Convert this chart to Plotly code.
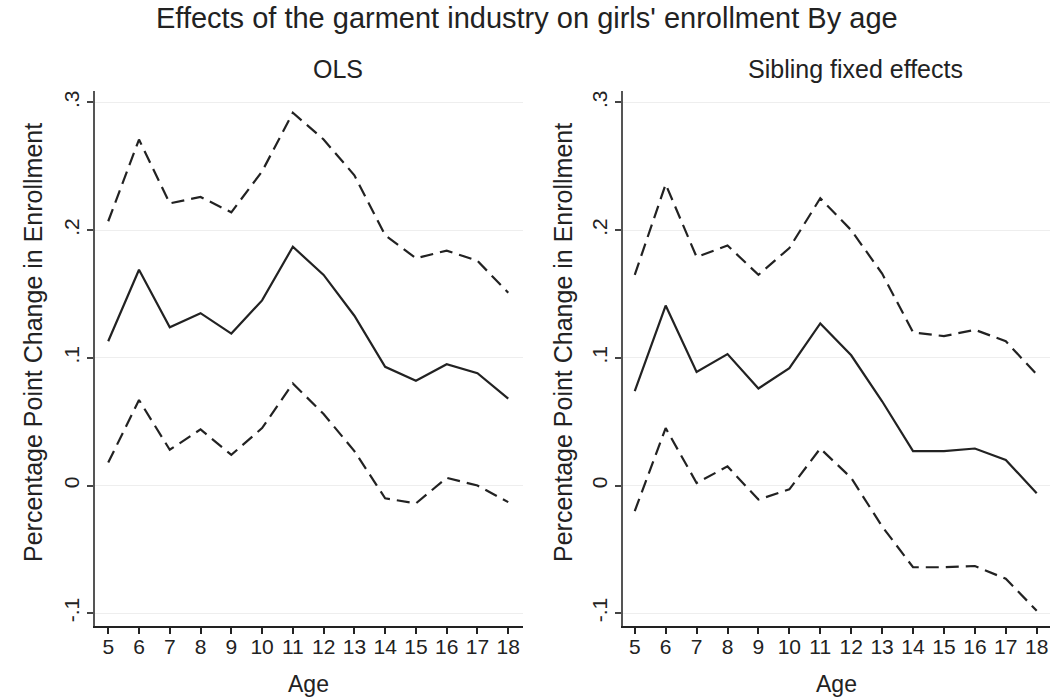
import plotly.graph_objects as go

ages = list(range(5, 19))

ols_est = [0.113, 0.169, 0.124, 0.135, 0.119, 0.145, 0.187, 0.165, 0.133, 0.093, 0.082, 0.095, 0.088, 0.068]
ols_hi = [0.207, 0.271, 0.221, 0.226, 0.214, 0.246, 0.292, 0.271, 0.243, 0.196, 0.178, 0.184, 0.176, 0.151]
ols_lo = [0.018, 0.067, 0.028, 0.044, 0.024, 0.045, 0.080, 0.056, 0.027, -0.010, -0.014, 0.006, 0.000, -0.013]

fe_est = [0.074, 0.141, 0.089, 0.103, 0.076, 0.092, 0.127, 0.102, 0.066, 0.027, 0.027, 0.029, 0.020, -0.006]
fe_hi = [0.165, 0.236, 0.179, 0.188, 0.165, 0.186, 0.225, 0.200, 0.166, 0.120, 0.117, 0.122, 0.113, 0.087]
fe_lo = [-0.020, 0.045, 0.002, 0.015, -0.011, -0.003, 0.029, 0.006, -0.032, -0.064, -0.064, -0.063, -0.073, -0.098]

y_ticks = [-0.1, 0, 0.1, 0.2, 0.3]
y_tick_labels = ["-.1", "0", ".1", ".2", ".3"]

main_title = "Effects of the garment industry on girls' enrollment By age"
panel_titles = ["OLS", "Sibling fixed effects"]
y_title = "Percentage Point Change in Enrollment"
x_title = "Age"

W, H = 1053, 700
FONT = "Liberation Sans, Arial, Helvetica, sans-serif"
INK = "#222222"

fig = go.Figure()

panels = [(ols_est, ols_hi, ols_lo, "x", "y"), (fe_est, fe_hi, fe_lo, "x2", "y2")]
for est, hi, lo, xa, ya in panels:
    fig.add_trace(go.Scatter(x=ages, y=est, mode="lines", xaxis=xa, yaxis=ya,
                             line=dict(color=INK, width=2.2), showlegend=False))
    for s in (hi, lo):
        fig.add_trace(go.Scatter(x=ages, y=s, mode="lines", xaxis=xa, yaxis=ya,
                                 line=dict(color=INK, width=2.2, dash="13px,7px"),
                                 showlegend=False))

left_dom = [95 / W, 523 / W]
right_dom = [623 / W, 1050 / W]
y_dom = [1 - 626 / H, 1 - 91 / H]

def xaxis_cfg(dom, anchor, rng):
    return dict(domain=dom, anchor=anchor, range=rng, tickmode="array",
                tickvals=ages, ticktext=[str(a) for a in ages], ticks="outside",
                ticklen=6, tickwidth=2, tickcolor=INK, showline=True,
                linecolor=INK, linewidth=2, showgrid=False, zeroline=False,
                ticklabelstandoff=-5,
                tickfont=dict(family=FONT, size=21, color=INK))

def yaxis_cfg(anchor):
    return dict(domain=y_dom, anchor=anchor, range=[-0.110, 0.309], tickmode="array",
                tickvals=y_ticks, ticktext=y_tick_labels, ticks="outside",
                ticklen=6, tickwidth=2, tickcolor="#444", showline=True,
                linecolor="#555", linewidth=2, showgrid=True, gridcolor="#eeeeee",
                gridwidth=1, zeroline=False, tickangle=-90,
                tickfont=dict(family=FONT, size=21, color=INK))

fig.update_layout(
    width=W, height=H,
    margin=dict(l=0, r=0, t=0, b=0),
    paper_bgcolor="white", plot_bgcolor="white",
    font=dict(family=FONT, color=INK),
    xaxis=xaxis_cfg(left_dom, "y", [4.57, 18.48]),
    yaxis=yaxis_cfg("x"),
    xaxis2=xaxis_cfg(right_dom, "y2", [4.62, 18.43]),
    yaxis2=yaxis_cfg("x2"),
)

ann = [
    dict(text=main_title, x=527, y=18, size=29),
    dict(text=panel_titles[0], x=338, y=69, size=25),
    dict(text=panel_titles[1], x=855, y=69, size=25),
    dict(text=x_title, x=308, y=684, size=23),
    dict(text=x_title, x=836, y=684, size=23),
]
for a in ann:
    fig.add_annotation(text=a["text"], x=a["x"] / W, y=1 - a["y"] / H, xref="paper", yref="paper",
                       xanchor="center", yanchor="middle", showarrow=False,
                       font=dict(family=FONT, size=a["size"], color=INK))
for xc in (33, 563):
    fig.add_annotation(text=y_title, x=xc / W, y=1 - 343 / H, xref="paper", yref="paper",
                       xanchor="center", yanchor="middle", showarrow=False, textangle=-90,
                       font=dict(family=FONT, size=25, color=INK))

fig.write_html("out.html")
